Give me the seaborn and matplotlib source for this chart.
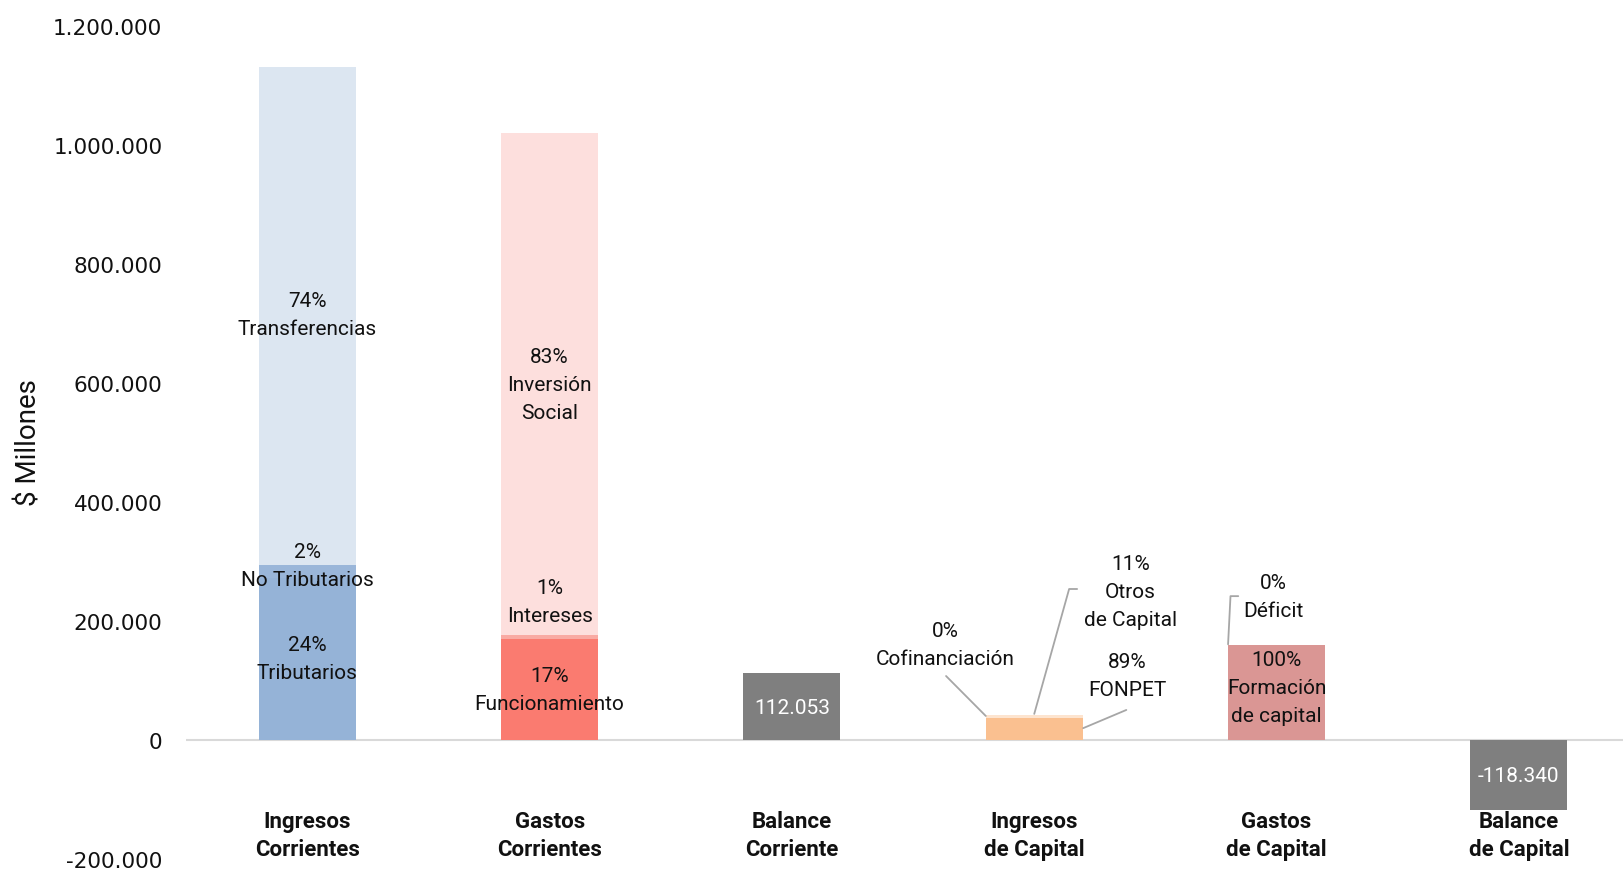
import numpy as np
import pandas as pd
import seaborn as sns
import matplotlib.pyplot as plt

# categories (x axis)
categories = ['Ingresos\nCorrientes', 'Gastos\nCorrientes', 'Balance\nCorriente',
              'Ingresos\nde Capital', 'Gastos\nde Capital', 'Balance\nde Capital']

# stacked components, bottom to top ($ millones)
layer1 = [272000, 170000, 112053, 37200, 160140, -118340]   # Tributarios, Funcionamiento, ..., FONPET, Formacion
layer2 = [23000, 6000, 0, 4600, 0, 0]                       # No Tributarios, Intereses, ..., Otros de Capital, Deficit
layer3 = [837000, 845000, 0, 0, 0, 0]                       # Transferencias, Inversion Social, ..., Cofinanciacion

colors1 = ['#95B3D7', '#FA7B70', '#7F7F7F', '#FAC090', '#DA9694', '#7F7F7F']
colors2 = ['#9AB6D9', '#F9AAA3', '#7F7F7F', '#FDE4CF', '#DA9694', '#7F7F7F']
colors3 = ['#DCE6F1', '#FDDFDD', '#7F7F7F', '#FDE4CF', '#DA9694', '#7F7F7F']

yticks = [-200000, 0, 200000, 400000, 600000, 800000, 1000000, 1200000]

df = pd.DataFrame({'cat': categories,
                   'c1': np.array(layer1),
                   'c2': np.array(layer1) + np.array(layer2),
                   'c3': np.array(layer1) + np.array(layer2) + np.array(layer3)})

sns.set_theme(style='white')
plt.rcParams['font.family'] = ['Roboto', 'DejaVu Sans']

fig = plt.figure(figsize=(16.23, 8.70), dpi=100)
ax = fig.add_axes([0.1146, 0.0115, 0.8854, 0.957])

# draw cumulative heights from the top layer down, so lower layers sit over
for col, pal in [('c3', colors3), ('c2', colors2), ('c1', colors1)]:
    sns.barplot(data=df, x='cat', y=col, hue='cat', order=categories,
                hue_order=categories, palette=pal, width=0.4,
                saturation=1, legend=False, linewidth=0, edgecolor='none', ax=ax)

ax.axhline(0, color='#D9D9D9', lw=1.5, zorder=0)
ax.set_xlim(-0.501, 5.43)
ax.set_ylim(-200000, 1200000)
ax.set_yticks(yticks)
ax.set_yticklabels([f'{v:,.0f}'.replace(',', '.') for v in yticks],
                   family='DejaVu Sans', fontsize=15.5, color='#111111')
ax.tick_params(axis='y', length=0, pad=17)
ax.set_xticks([])
ax.set_xlabel('')
ax.set_ylabel('')
for s in ax.spines.values():
    s.set_visible(False)

fig.text(0.018, 0.491, '$ Millones', rotation=90, ha='center', va='center',
         fontsize=20, color='#111111')

# category labels under the bars
for i, c in enumerate(categories):
    ax.text(i, -160000, c, ha='center', va='center', fontsize=16,
            fontweight='bold', linespacing=1.35, color='#111111')

txt = dict(ha='center', va='center', fontsize=15, linespacing=1.6, color='#111111')
ax.text(0, 715000, '74%\nTransferencias', **txt)
ax.text(0, 294000, '2%\nNo Tributarios', **txt)
ax.text(0, 137000, '24%\nTributarios', **txt)
ax.text(1, 598000, '83%\nInversión\nSocial', **txt)
ax.text(1, 233000, '1%\nIntereses', **txt)
ax.text(1, 85000, '17%\nFuncionamiento', **txt)
ax.text(4, 89000, '100%\nFormación\nde capital', **txt)
ax.text(2.633, 160000, '0%\nCofinanciación', **txt)
ax.text(3.397, 250000, '11%\nOtros\nde Capital', **txt)
ax.text(3.384, 108000, '89%\nFONPET', **txt)
ax.text(3.987, 242000, '0%\nDéficit', **txt)

ax.text(2, 54000, f'{layer1[2]:,.0f}'.replace(',', '.'), ha='center', va='center',
        fontsize=15, color='white')
ax.text(5, -59000, f'{layer1[5]:,.0f}'.replace(',', '.'), ha='center', va='center',
        fontsize=15, color='white')

# leader lines
lc = dict(color='#A6A6A6', lw=1.3)
ax.plot([2.80, 2.636], [40500, 107700], **lc)
ax.plot([3.0, 3.144, 3.177], [44000, 254000, 254000], **lc)
ax.plot([3.202, 3.38], [20000, 50600], **lc)
ax.plot([3.80, 3.81, 3.842], [161000, 242000, 242000], **lc)

fig.savefig('out.png', dpi=100)
